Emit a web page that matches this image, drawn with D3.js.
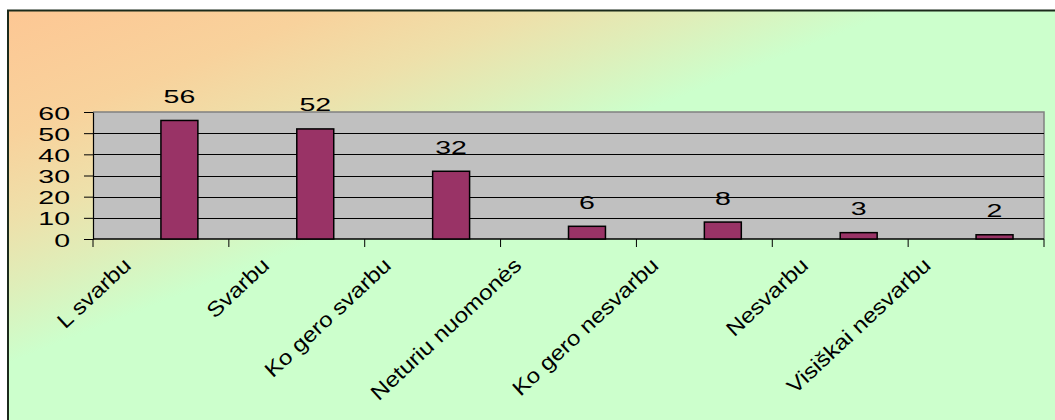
<!DOCTYPE html>
<html><head><meta charset="utf-8">
<script src="https://cdn.jsdelivr.net/npm/d3@7"></script>
<style>body{margin:0;background:#fff}svg{display:block}text{font-family:"Liberation Sans",Arial,sans-serif;fill:#000}</style>
</head><body><svg id="c" width="1055" height="420"></svg>
<script>
const categories = ["L svarbu","Svarbu","Ko gero svarbu","Neturiu nuomonės","Ko gero nesvarbu","Nesvarbu","Visiškai nesvarbu"];
const values = [56,52,32,6,8,3,2];
const yTicks = [0,10,20,30,40,50,60];

(function(){
const svg = d3.select("#c");
const defs = svg.append("defs");
const grad = defs.append("linearGradient").attr("id","bg").attr("x1",0).attr("y1",0).attr("x2",1).attr("y2",1);
[[0,"#FDC794"],[0.15,"#F8D29C"],[0.25,"#EEE0AA"],[0.33,"#DFEEB9"],[0.42,"#CCFFCC"],[1,"#CCFFCC"]]
  .forEach(([o,c])=>grad.append("stop").attr("offset",o).attr("stop-color",c));
defs.append("clipPath").attr("id","lblclip").append("rect").attr("x",0).attr("y",252).attr("width",1055).attr("height",170);

svg.append("rect").attr("x",8).attr("y",10.5).attr("width",1060).attr("height",420)
  .attr("fill","url(#bg)").attr("stroke","#1b2a1b").attr("stroke-width",2);

const pL=93,pR=1044,pT=112,pB=239;
const x = d3.scaleBand().domain(categories).range([pL,pR]).padding(0);
const y = d3.scaleLinear().domain([0,60]).range([pB,pT]);
const bw = x.bandwidth();

// plot area
svg.append("rect").attr("x",pL).attr("y",pT).attr("width",pR-pL).attr("height",pB-pT).attr("fill","#C0C0C0");
svg.append("path").attr("d",`M${pL},${pT}H${pR}V${pB}`).attr("fill","none").attr("stroke","#808080").attr("stroke-width",1.5);
svg.append("g").selectAll("line").data(yTicks.filter(t=>t>0&&t<60)).join("line")
  .attr("x1",pL).attr("x2",pR).attr("y1",d=>Math.round(y(d))+0.5).attr("y2",d=>Math.round(y(d))+0.5)
  .attr("stroke","#000").attr("stroke-width",1);

// y axis
const ya = svg.append("g").attr("transform",`translate(${pL},0)`)
  .call(d3.axisLeft(y).tickValues(yTicks).tickSize(9).tickSizeOuter(0).tickFormat(d3.format("d")));
ya.select(".domain").attr("stroke","#000").attr("stroke-width",1.2);
ya.selectAll(".tick line").attr("stroke","#000");
ya.selectAll(".tick text").attr("x",0).attr("dy",null).attr("y",7).attr("font-size",19)
  .attr("text-anchor","end").attr("transform","translate(-23,0) scale(1.5,1)");

// x axis
const xa = svg.append("g").attr("transform",`translate(0,${pB})`);
xa.append("line").attr("x1",pL).attr("x2",pR).attr("stroke","#000").attr("stroke-width",1.5);
xa.selectAll("line.t").data(d3.range(categories.length+1)).join("line").attr("class","t")
  .attr("x1",i=>pL+i*bw).attr("x2",i=>pL+i*bw).attr("y1",0).attr("y2",8).attr("stroke","#000");

// bars
svg.append("g").selectAll("rect").data(values).join("rect")
  .attr("x",(d,i)=>x(categories[i])+bw/2).attr("width",bw*0.272)
  .attr("y",d=>y(d)).attr("height",d=>pB-y(d))
  .attr("fill","#993366").attr("stroke","#000").attr("stroke-width",1.5);

// value labels
svg.append("g").selectAll("text").data(values).join("text")
  .attr("text-anchor","middle").attr("font-size",19)
  .attr("transform",(d,i)=>`translate(${x(categories[i])+bw/2+bw*0.136},${y(d)-17.5}) scale(1.5,1)`)
  .text(d=>d);

// category labels
const lg = svg.append("g").attr("clip-path","url(#lblclip)");
const sxr = 1.15;
lg.selectAll("text").data(categories).join("text")
  .attr("font-size",21).attr("text-anchor","end").text(d=>d)
  .each(function(d){
    const L = this.getComputedTextLength()*sxr;
    const cx = x(d)+bw/2;
    const ex = cx-(14+0.16*L);
    d3.select(this).attr("transform",`translate(${ex},267) rotate(-43) scale(${sxr},1)`);
  });
})();
</script></body></html>
